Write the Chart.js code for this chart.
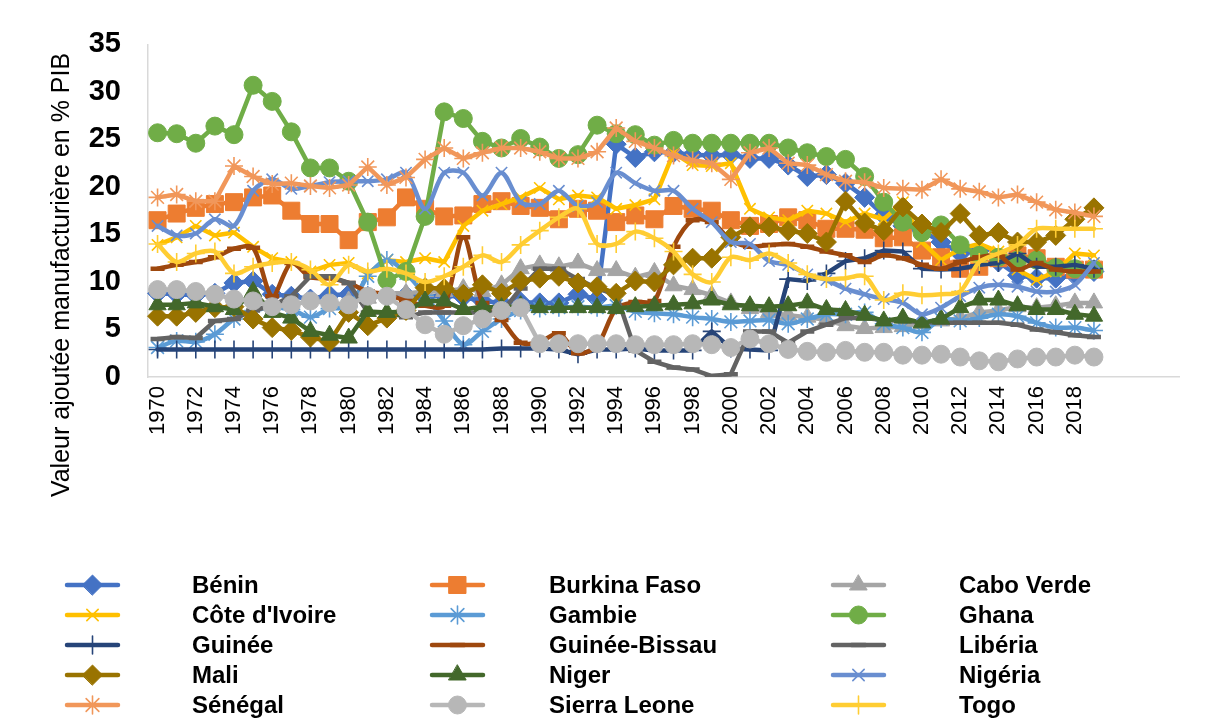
<!DOCTYPE html>
<html lang="fr">
<head>
  <meta charset="UTF-8">
  <title>Valeur ajoutée manufacturière en % PIB</title>
  <script src="https://cdn.jsdelivr.net/npm/chart.js"></script>
  <style>
    html, body { margin: 0; padding: 0; background: #ffffff; }
    #cadre { width: 1206px; height: 722px; }
  </style>
</head>
<body>
  <div id="cadre">
    <canvas id="graphique" width="1206" height="722"></canvas>
  </div>

  <script>
    // Années (les 4 dernières catégories sont vides, comme dans Excel)
    const annees = [
      '1970','1971','1972','1973','1974','1975','1976','1977','1978','1979',
      '1980','1981','1982','1983','1984','1985','1986','1987','1988','1989',
      '1990','1991','1992','1993','1994','1995','1996','1997','1998','1999',
      '2000','2001','2002','2003','2004','2005','2006','2007','2008','2009',
      '2010','2011','2012','2013','2014','2015','2016','2017','2018','2019',
      '','','',''
    ];
    const graduationsY = [0, 5, 10, 15, 20, 25, 30, 35];

    // Valeurs 1970-2019 (% du PIB)
    const benin = [8.8,8.7,8.6,8.8,9.9,10.1,8.7,8.5,8.2,8.6, 8.7,8.5,8.5,8.6,8.4,8.6,8.4,8.0,7.8,7.9,
      7.8,7.8,8.7,8.2,24.5,23.1,23.7,23.6,23.4,23.3, 23.4,23.0,23.0,22.3,21.1,21.3,20.4,18.9,17.0,15.9,
      15.4,14.2,13.0,13.3,12.1,10.7,10.4,10.4,10.7,11.1];
    const burkina = [16.5,17.2,17.8,18.2,18.4,18.9,19.1,17.5,16.1,16.1, 14.4,16.3,16.8,18.9,17.7,16.9,17.0,18.2,18.5,18.0,
      17.8,16.6,17.7,17.5,16.3,17.0,16.6,18.0,17.7,17.5, 16.5,15.9,16.1,16.8,16.5,15.6,15.6,15.5,14.6,14.7,
      13.3,12.6,11.4,11.6,12.5,12.8,12.5,11.6,11.3,11.3];
    const caboVerde = [null,null,null,null,null,null,null,null,null,null, 8.0,8.3,8.8,8.8,9.0,9.0,9.3,9.0,9.7,11.4,
      11.8,11.6,12.0,11.2,11.2,10.5,11.0,9.6,9.2,8.6, 7.8,7.2,6.8,6.5,6.3,6.0,5.4,5.1,5.2,5.3,
      5.6,5.9,6.2,6.8,7.0,7.4,7.3,7.5,7.8,7.8];
    const coteIvoire = [13.9,14.7,15.9,14.9,15.2,13.7,12.5,12.1,11.1,11.8, 12.0,10.9,12.3,12.1,12.5,12.1,15.9,17.5,18.2,18.9,
      19.9,18.7,19.1,18.9,17.7,18.1,18.7,23.6,22.3,22.2, 22.5,17.7,16.8,16.5,17.5,17.2,16.3,17.2,16.6,18.4,
      14.2,12.3,13.5,14.0,13.2,11.3,10.2,11.1,13.0,12.8];
    const gambie = [3.1,3.8,3.7,4.5,6.1,7.0,7.3,7.1,6.3,7.2, 7.4,10.6,12.3,10.9,8.6,5.9,3.4,4.8,6.1,7.0,
      7.2,7.3,7.4,7.3,7.5,6.9,6.7,6.6,6.3,6.1, 5.8,5.9,6.0,5.6,6.1,6.6,6.6,6.8,5.6,5.2,
      4.7,6.1,5.9,6.2,6.6,6.4,5.7,5.2,5.2,4.9];
    const ghana = [25.7,25.6,24.6,26.4,25.5,30.7,29.0,25.8,22.0,22.0, 20.6,16.3,10.2,11.1,16.9,27.9,27.2,24.8,24.1,25.1,
      24.2,23.0,23.4,26.5,25.6,25.5,24.4,24.9,24.6,24.6, 24.6,24.6,24.6,24.1,23.6,23.2,22.9,21.1,18.4,16.3,
      15.2,16.0,13.9,12.8,12.6,12.3,12.3,11.5,11.4,11.3];
    const guinee = [2.9,2.9,2.9,2.9,2.9,2.9,2.9,2.9,2.9,2.9, 2.9,2.9,2.9,2.9,2.9,2.9,2.9,2.9,3.0,3.0,
      3.0,2.9,2.4,2.9,2.9,3.0,2.8,2.8,2.8,4.8, 3.0,2.9,2.8,10.3,10.1,10.9,12.2,12.5,13.3,13.2,
      11.4,11.3,11.4,11.8,12.0,13.0,11.6,11.6,11.8,11.4];
    const guineeBissau = [11.4,11.8,12.1,12.6,13.5,13.6,8.5,12.0,10.5,10.4, 9.9,9.0,8.7,8.0,7.5,7.5,14.7,7.8,6.0,3.6,
      3.7,4.6,2.5,3.3,7.2,7.9,8.0,13.7,16.5,16.3, 14.4,13.7,13.9,14.0,13.7,13.2,12.8,12.1,12.8,12.5,
      11.8,11.4,12.1,12.6,12.8,11.3,12.0,11.3,11.1,11.1];
    const liberia = [4.0,4.2,4.1,5.9,6.1,7.0,7.5,8.5,10.6,10.6, 9.9,6.8,6.8,6.3,6.8,6.8,6.8,6.8,6.8,9.3,
      11.4,11.4,10.3,9.3,8.7,2.8,1.6,1.0,0.8,0.1, 0.3,4.8,4.8,3.6,4.8,5.5,6.2,6.2,6.0,5.9,
      5.8,5.7,5.7,5.7,5.7,5.5,5.0,4.7,4.4,4.2];
    const mali = [6.4,6.4,6.8,7.3,7.4,6.1,5.2,4.9,4.2,3.7, 6.8,5.4,6.2,7.0,9.4,9.3,8.7,9.7,8.8,10.1,
      10.4,10.6,9.9,9.5,8.8,10.1,10.0,11.8,12.5,12.5, 14.7,15.8,15.8,15.4,15.1,14.2,18.5,16.2,15.4,17.9,
      16.1,15.2,17.2,14.9,15.2,14.2,14.2,14.9,16.6,17.8];
    const niger = [7.6,7.6,7.8,7.4,7.1,9.0,6.8,6.2,4.8,4.4, 4.1,6.9,6.8,6.9,8.0,8.0,7.1,7.4,7.3,7.5,
      7.3,7.3,7.3,7.3,7.2,7.4,7.5,7.6,7.7,8.1, 7.6,7.5,7.4,7.5,7.8,7.1,7.0,6.5,5.9,6.2,
      5.7,6.1,7.3,8.1,8.1,7.5,7.1,7.1,6.6,6.4];
    const nigeria = [15.9,14.9,15.1,16.6,15.9,19.6,20.8,19.8,20.1,20.5, 20.6,20.6,20.8,21.5,17.7,21.5,21.5,19.1,21.5,18.4,
      18.2,19.6,18.0,18.4,21.5,20.4,19.6,19.6,17.7,16.3, 14.2,14.0,12.2,11.8,10.8,10.2,9.3,8.7,8.2,7.8,
      6.6,7.3,8.5,9.4,9.7,9.5,9.0,9.0,9.7,12.0];
    const senegal = [18.9,19.2,18.5,18.5,22.2,21.1,20.3,20.4,20.1,19.9, 20.2,22.1,20.2,21.0,22.9,24.1,23.0,23.6,24.1,24.1,
      23.7,23.0,23.0,23.7,26.2,24.8,24.1,23.3,22.8,22.5, 20.8,23.6,24.1,22.5,22.3,21.3,20.6,20.5,19.9,19.8,
      19.7,20.8,19.8,19.5,18.9,19.2,18.4,17.6,17.3,16.9];
    const sierraLeone = [9.2,9.2,9.0,8.7,8.2,8.0,7.4,7.6,8.0,7.8, 7.6,8.5,8.5,7.1,5.5,4.5,5.4,6.1,7.0,7.3,
      3.5,3.5,3.5,3.5,3.5,3.4,3.4,3.4,3.5,3.4, 3.1,4.0,3.5,2.9,2.7,2.6,2.8,2.6,2.6,2.3,
      2.3,2.4,2.1,1.7,1.6,1.9,2.1,2.1,2.3,2.1];
    const togo = [14.0,12.1,13.0,13.2,10.9,11.6,12.0,12.1,11.3,9.7, 11.8,11.1,11.4,10.9,10.0,10.6,11.6,12.8,12.1,13.9,
      15.4,16.8,17.7,14.0,14.0,15.3,14.6,13.2,10.8,10.0, 12.6,12.3,13.0,12.0,10.8,10.3,10.4,10.6,8.1,8.8,
      8.6,8.7,9.0,12.1,13.0,13.9,15.6,15.6,15.6,15.6];

    const pays = ['Bénin', 'Burkina Faso', 'Cabo Verde', "Côte d'Ivoire", 'Gambie', 'Ghana',
      'Guinée', 'Guinée-Bissau', 'Libéria', 'Mali', 'Niger', 'Nigéria', 'Sénégal', 'Sierra Leone', 'Togo'];
    const valeurs = [benin, burkina, caboVerde, coteIvoire, gambie, ghana,
      guinee, guineeBissau, liberia, mali, niger, nigeria, senegal, sierraLeone, togo];
    const couleurs = ['#4472C4', '#ED7D31', '#A5A5A5', '#FFC000', '#5B9BD5', '#70AD47',
      '#264478', '#9E480E', '#636363', '#997300', '#43682B', '#698ED0', '#F1975A', '#B7B7B7', '#FFCD33'];
    const marqueurs = ['rectRot', 'rect', 'triangle', 'crossRot', 'star', 'circle',
      'cross', 'line', 'line', 'rectRot', 'triangle', 'crossRot', 'star', 'circle', 'cross'];
    const lisses = ['Gambie', 'Guinée-Bissau', 'Nigéria', 'Togo'];

    // taille et épaisseur des marqueurs selon le type
    const tailleMarqueur = { circle: 9, rect: 12, rectRot: 10, triangle: 10, crossRot: 8, star: 9, cross: 9, line: 7 };
    const traitMarqueur = { circle: 1, rect: 1, rectRot: 1, triangle: 1, crossRot: 1.6, star: 1.6, cross: 1.6, line: 4.5 };

    const police = "'Liberation Sans', Arial, sans-serif";

    const datasets = pays.map((nom, i) => ({
      label: nom,
      data: valeurs[i],
      borderColor: couleurs[i],
      backgroundColor: couleurs[i],
      borderWidth: 4.5,
      borderCapStyle: 'round',
      borderJoinStyle: 'round',
      pointStyle: marqueurs[i],
      pointRadius: tailleMarqueur[marqueurs[i]],
      pointBorderWidth: traitMarqueur[marqueurs[i]],
      pointBorderColor: couleurs[i],
      pointBackgroundColor: couleurs[i],
      tension: lisses.includes(nom) ? 0.3 : 0,
      spanGaps: false,
      order: pays.length - i   // la dernière série est dessinée au-dessus, comme dans Excel
    }));

    // Légende sur 3 colonnes + titre de l'axe Y
    const legendeExcel = {
      id: 'legendeExcel',
      afterDraw(chart) {
        const ctx = chart.ctx;
        const debutTrait = [67, 432, 833];
        const debutTexte = [192, 549, 959];
        ctx.save();
        chart.data.datasets.forEach((ds, i) => {
          const col = i % 3;
          const y = 585 + Math.floor(i / 3) * 30;
          const x0 = debutTrait[col];
          ctx.strokeStyle = ds.borderColor;
          ctx.fillStyle = ds.borderColor;
          ctx.lineWidth = 4.5;
          ctx.lineCap = 'round';
          ctx.beginPath();
          ctx.moveTo(x0, y);
          ctx.lineTo(x0 + 51, y);
          ctx.stroke();
          ctx.lineWidth = ds.pointBorderWidth;
          Chart.helpers.drawPoint(ctx, {
            pointStyle: ds.pointStyle,
            radius: ds.pointRadius,
            rotation: 0,
            borderWidth: ds.pointBorderWidth
          }, x0 + 25.5, y);
          ctx.fillStyle = '#000000';
          ctx.font = 'bold 24px ' + police;
          ctx.textAlign = 'left';
          ctx.textBaseline = 'middle';
          ctx.fillText(ds.label, debutTexte[col], y + 1);
        });

        ctx.translate(62, 275);
        ctx.rotate(-Math.PI / 2);
        ctx.fillStyle = '#000000';
        ctx.font = '25px ' + police;
        ctx.textAlign = 'center';
        ctx.textBaseline = 'middle';
        ctx.fillText('Valeur ajoutée manufacturière en % PIB', 0, 0);
        ctx.restore();
      }
    };

    new Chart(document.getElementById('graphique').getContext('2d'), {
      type: 'line',
      data: { labels: annees, datasets: datasets },
      plugins: [legendeExcel],
      options: {
        responsive: false,
        animation: false,
        devicePixelRatio: 1,
        layout: { padding: { top: 40, right: 23, left: 0, bottom: 0 } },
        plugins: {
          legend: { display: false },
          tooltip: { enabled: false }
        },
        scales: {
          x: {
            type: 'category',
            offset: true,
            grid: { display: false, drawTicks: false },
            border: { display: true, color: '#d9d9d9', width: 1.5 },
            ticks: {
              autoSkip: false,
              minRotation: 90,
              maxRotation: 90,
              padding: 9,
              color: '#000000',
              font: { family: police, size: 22 },
              callback: function (val, index) {
                return index % 2 === 0 ? this.getLabelForValue(val) : '';
              }
            },
            afterFit: function (scale) { scale.height = 345; }
          },
          y: {
            min: graduationsY[0],
            max: graduationsY[graduationsY.length - 1],
            grid: { display: false, drawTicks: false },
            border: { display: true, color: '#d9d9d9', width: 1.5 },
            ticks: {
              stepSize: 5,
              padding: 27,
              color: '#000000',
              font: { family: police, size: 29, weight: 'bold' }
            },
            afterFit: function (scale) { scale.width = 148; }
          }
        }
      }
    });
  </script>
</body>
</html>
